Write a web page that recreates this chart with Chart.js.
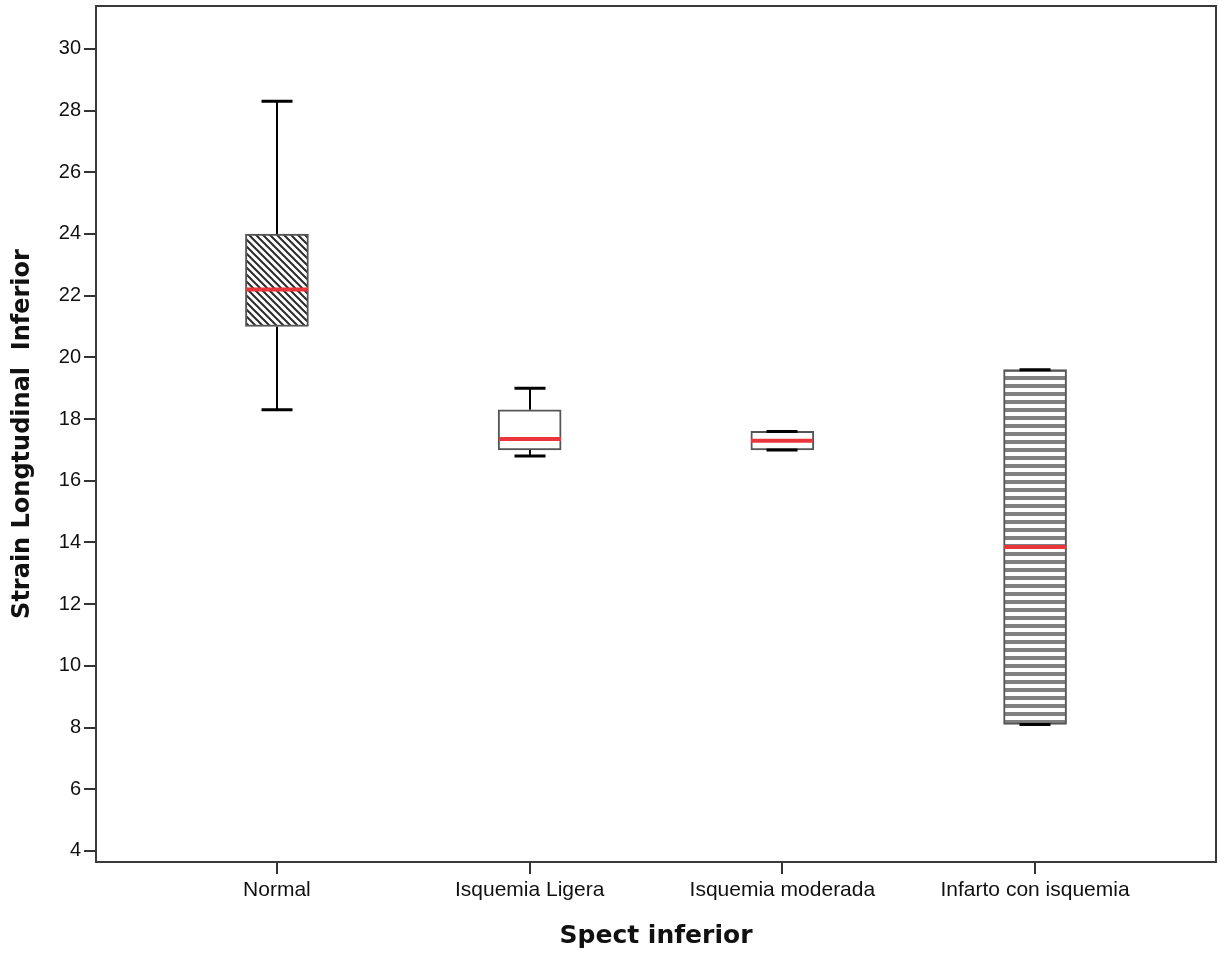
<!DOCTYPE html>
<html>
<head>
<meta charset="utf-8">
<title>Strain Longtudinal Inferior</title>
<script src="https://cdn.jsdelivr.net/npm/chart.js@4.4.1/dist/chart.umd.min.js"></script>
<style>
  html, body { margin: 0; padding: 0; background: #fff; }
  #wrap { width: 1218px; height: 955px; }
</style>
</head>
<body>
<div id="wrap"><canvas id="boxChart" width="1218" height="955"></canvas></div>
<script>
// groups on the x axis
var groups = ["Normal", "Isquemia Ligera", "Isquemia moderada", "Infarto con isquemia"];

// five-number summaries per group
var whiskerLow  = [18.3, 16.8, 17.0, 8.1];
var q1          = [21.0, 17.0, 17.0, 8.1];
var median      = [22.2, 17.35, 17.3, 13.85];
var q3          = [24.0, 18.3, 17.6, 19.6];
var whiskerHigh = [28.3, 19.0, 17.6, 19.6];

var yTicks = [4, 6, 8, 10, 12, 14, 16, 18, 20, 22, 24, 26, 28, 30];

// fill patterns for the boxes
function hatchPattern() {
    var c = document.createElement('canvas');
    c.width = 7; c.height = 7;
    var g = c.getContext('2d');
    g.fillStyle = '#fff';
    g.fillRect(0, 0, 7, 7);
    g.strokeStyle = '#2b2b2b';
    g.lineWidth = 2;
    g.beginPath();
    g.moveTo(-1, -1); g.lineTo(8, 8);
    g.moveTo(-1, 6); g.lineTo(1, 8);
    g.moveTo(6, -1); g.lineTo(8, 1);
    g.stroke();
    return g.createPattern(c, 'repeat');
}

function stripePattern() {
    var c = document.createElement('canvas');
    c.width = 8; c.height = 8;
    var g = c.getContext('2d');
    g.fillStyle = '#fff';
    g.fillRect(0, 0, 8, 8);
    g.fillStyle = '#808080';
    g.fillRect(0, 0, 8, 4);
    return g.createPattern(c, 'repeat');
}

var boxFills = [hatchPattern(), '#ffffff', '#ffffff', stripePattern()];

// whiskers, caps, medians and the frame
var boxExtras = {
    id: 'boxExtras',
    beforeDatasetsDraw: function(chart) {
        var ctx = chart.ctx, xs = chart.scales.x, ys = chart.scales.y;
        ctx.save();
        ctx.strokeStyle = '#000';
        ctx.lineWidth = 2;
        groups.forEach(function(g, i) {
            var px = Math.round(xs.getPixelForValue(i + 1));
            ctx.beginPath();
            ctx.moveTo(px, ys.getPixelForValue(whiskerLow[i]));
            ctx.lineTo(px, ys.getPixelForValue(q1[i]));
            ctx.moveTo(px, ys.getPixelForValue(q3[i]));
            ctx.lineTo(px, ys.getPixelForValue(whiskerHigh[i]));
            ctx.stroke();
        });
        ctx.restore();
    },
    afterDatasetsDraw: function(chart) {
        var ctx = chart.ctx, xs = chart.scales.x, ys = chart.scales.y;
        var a = chart.chartArea;
        ctx.save();
        groups.forEach(function(g, i) {
            var px = Math.round(xs.getPixelForValue(i + 1));
            // caps
            ctx.strokeStyle = '#000';
            ctx.lineWidth = 3;
            ctx.beginPath();
            [whiskerLow[i], whiskerHigh[i]].forEach(function(v) {
                var py = ys.getPixelForValue(v);
                ctx.moveTo(px - 15.5, py);
                ctx.lineTo(px + 15.5, py);
            });
            ctx.stroke();
            // median
            ctx.strokeStyle = '#e8363c';
            ctx.lineWidth = 4;
            ctx.beginPath();
            var my = ys.getPixelForValue(median[i]);
            ctx.moveTo(px - 31, my);
            ctx.lineTo(px + 31, my);
            ctx.stroke();
        });
        // frame
        ctx.strokeStyle = '#3a3a3a';
        ctx.lineWidth = 2;
        ctx.strokeRect(a.left, a.top, a.right - a.left, a.bottom - a.top);
        ctx.restore();
    }
};

var ctx = document.getElementById('boxChart');
var boxChart = new Chart(ctx, {
    type: 'bar',
    data: {
        datasets: [{
            data: groups.map(function(g, i) { return { x: i + 1, y: [q1[i], q3[i]] }; }),
            backgroundColor: boxFills,
            borderColor: '#555555',
            borderWidth: 2,
            borderSkipped: false,
            barThickness: 63
        }]
    },
    options: {
        responsive: false,
        animation: false,
        layout: { padding: { top: 6, right: 2, left: 0, bottom: 0 } },
        plugins: {
            legend: { display: false },
            tooltip: { enabled: false }
        },
        scales: {
            x: {
                type: 'linear',
                min: 0.284,
                max: 4.716,
                offset: false,
                afterBuildTicks: function(scale) {
                    scale.ticks = groups.map(function(g, i) { return { value: i + 1 }; });
                },
                afterFit: function(scale) {
                    scale.height = 93;
                    scale.paddingLeft = 0;
                    scale.paddingRight = 0;
                },
                grid: { offset: false, drawOnChartArea: false, drawTicks: true, tickLength: 12, color: '#333', lineWidth: 2 },
                border: { display: true, color: '#3a3a3a', width: 2 },
                ticks: {
                    autoSkip: false,
                    maxRotation: 0,
                    padding: 4,
                    color: '#111',
                    font: { family: 'Liberation Sans, Arial, sans-serif', size: 21 },
                    callback: function(v) { return groups[v - 1]; }
                },
                title: {
                    display: true,
                    text: 'Spect inferior',
                    color: '#111',
                    padding: { top: 0, bottom: 4 },
                    font: { family: 'DejaVu Sans, sans-serif', size: 25, weight: 'bold' }
                }
            },
            y: {
                min: 3.64,
                max: 31.39,
                afterBuildTicks: function(scale) {
                    scale.ticks = yTicks.map(function(v) { return { value: v }; });
                },
                afterFit: function(scale) {
                    scale.width = 96;
                    scale.paddingTop = 0;
                    scale.paddingBottom = 0;
                },
                grid: { drawOnChartArea: false, drawTicks: true, tickLength: 12, color: '#333', lineWidth: 2 },
                border: { display: true, color: '#3a3a3a', width: 2 },
                ticks: {
                    padding: 3,
                    color: '#111',
                    font: { family: 'Liberation Sans, Arial, sans-serif', size: 20 }
                },
                title: {
                    display: true,
                    text: 'Strain Longtudinal  Inferior',
                    color: '#111',
                    padding: { top: 8, bottom: 0 },
                    font: { family: 'DejaVu Sans, sans-serif', size: 24, weight: 'bold' }
                }
            }
        }
    },
    plugins: [boxExtras]
});
</script>
</body>
</html>
